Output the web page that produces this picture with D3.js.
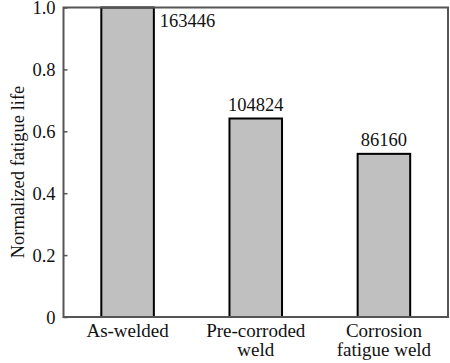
<!DOCTYPE html>
<html>
<head>
<meta charset="utf-8">
<script src="https://cdn.jsdelivr.net/npm/d3@7"></script>
<style>
  body { margin: 0; background: #fff; }
</style>
</head>
<body>
<svg id="chart" width="450" height="363"></svg>
<script>
// data
var categories = ['As-welded', 'Pre-corroded weld', 'Corrosion fatigue weld'];
var categoryLines = [['As-welded'], ['Pre-corroded', 'weld'], ['Corrosion', 'fatigue weld']];
var cycles = [163446, 104824, 86160];
var normalized = cycles.map(function(c) { return c / cycles[0]; });
var yTicks = [0, 0.2, 0.4, 0.6, 0.8, 1.0];

var plotL = 63.5, plotR = 448, plotT = 7.5, plotB = 317;
var font = "'Liberation Serif', 'Times New Roman', serif";

var svg = d3.select('#chart');

var x = d3.scaleBand()
    .domain(categories)
    .range([plotL, plotR])
    .paddingInner(0.59)
    .paddingOuter(0.295);

var y = d3.scaleLinear()
    .domain([0, 1])
    .range([plotB, plotT]);

// bars
svg.selectAll('rect.bar')
    .data(categories)
    .enter()
    .append('rect')
    .attr('class', 'bar')
    .attr('x', function(d) { return x(d); })
    .attr('width', x.bandwidth())
    .attr('y', function(d, i) { return y(normalized[i]); })
    .attr('height', function(d, i) { return y(0) - y(normalized[i]); })
    .attr('fill', '#c0c0c0')
    .attr('stroke', '#000')
    .attr('stroke-width', 2);

// frame
svg.append('rect')
    .attr('x', plotL)
    .attr('y', plotT)
    .attr('width', plotR - plotL)
    .attr('height', plotB - plotT)
    .attr('fill', 'none')
    .attr('stroke', '#555')
    .attr('stroke-width', 2);

// y axis, ticks pointing inward
var yAxis = svg.append('g')
    .attr('transform', 'translate(' + plotL + ',0)')
    .call(d3.axisRight(y).tickValues(yTicks).tickSize(4)
        .tickFormat(function(d) { return d === 0 ? '0' : d3.format('.1f')(d); }));
yAxis.select('.domain').remove();
yAxis.selectAll('line').attr('stroke', '#555').attr('stroke-width', 1.5);
yAxis.selectAll('text')
    .attr('x', -8)
    .attr('text-anchor', 'end')
    .attr('dy', '0.33em')
    .attr('fill', '#111')
    .style('font-family', font)
    .style('font-size', '18.5px');

// y label
svg.append('text')
    .attr('transform', 'translate(24,172) rotate(-90)')
    .attr('text-anchor', 'middle')
    .attr('fill', '#111')
    .style('font-family', font)
    .style('font-size', '18.5px')
    .text('Normalized fatigue life');

// value labels
svg.selectAll('text.value')
    .data(categories)
    .enter()
    .append('text')
    .attr('class', 'value')
    .attr('x', function(d, i) { return i === 0 ? x(d) + x.bandwidth() + 6 : x(d) + x.bandwidth() / 2; })
    .attr('y', function(d, i) { return i === 0 ? y(normalized[i]) + 19.5 : y(normalized[i]) - 8; })
    .attr('text-anchor', function(d, i) { return i === 0 ? 'start' : 'middle'; })
    .attr('fill', '#111')
    .style('font-family', font)
    .style('font-size', '18.5px')
    .text(function(d, i) { return cycles[i]; });

// category labels
var cat = svg.selectAll('text.cat')
    .data(categories)
    .enter()
    .append('text')
    .attr('class', 'cat')
    .attr('text-anchor', 'middle')
    .attr('fill', '#111')
    .style('font-family', font)
    .style('font-size', '19px');

cat.selectAll('tspan')
    .data(function(d, i) { return categoryLines[i].map(function(t) { return { t: t, c: d }; }); })
    .enter()
    .append('tspan')
    .attr('x', function(d) { return x(d.c) + x.bandwidth() / 2; })
    .attr('y', function(d, j) { return 337 + j * 19; })
    .text(function(d) { return d.t; });
</script>
</body>
</html>
